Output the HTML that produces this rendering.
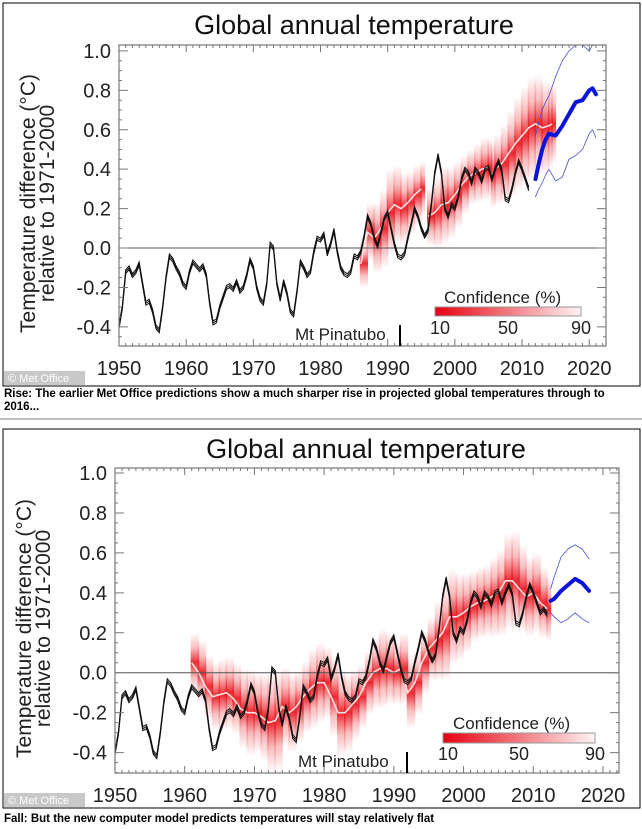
<!DOCTYPE html>
<html><head><meta charset="utf-8">
<style>
html,body{margin:0;padding:0;background:#fff;}
body{width:642px;height:829px;position:relative;overflow:hidden;font-family:"Liberation Sans",sans-serif;}
.cap{position:absolute;left:4px;font-family:"Liberation Sans Narrow","Liberation Sans",sans-serif;font-weight:bold;font-size:11.5px;color:#000;line-height:13px;}
</style></head>
<body>
<svg id="chart" width="642" height="829" viewBox="0 0 642 829" style="position:absolute;left:0;top:0">
<defs>
<linearGradient id="redv" x1="0" y1="0" x2="0" y2="1">
<stop offset="0" stop-color="#e8101a" stop-opacity="0"/>
<stop offset="0.25" stop-color="#ec2a30" stop-opacity="0.3"/>
<stop offset="0.5" stop-color="#e8101a" stop-opacity="0.9"/>
<stop offset="0.75" stop-color="#ec2a30" stop-opacity="0.3"/>
<stop offset="1" stop-color="#e8101a" stop-opacity="0"/>
</linearGradient>
<linearGradient id="legg" x1="0" y1="0" x2="1" y2="0">
<stop offset="0" stop-color="#e8000f"/>
<stop offset="0.5" stop-color="#f27a80"/>
<stop offset="1" stop-color="#fff4f4"/>
</linearGradient>
</defs>
</svg>
<div class="cap" style="top:388px;width:630px;">Rise: The earlier Met Office predictions show a much sharper rise in projected global temperatures through to 2016...</div>
<div style="position:absolute;left:0;top:418px;width:642px;height:2px;background:#bbb"></div>
<div class="cap" style="top:813px;">Fall: But the new computer model predicts temperatures will stay relatively flat</div>
<script>
// Observations (start 1950, half-year step)
const obsStart = 1950;
const obsStep = 0.5;
const obsVals = [-0.40,-0.30,-0.12,-0.10,-0.14,-0.12,-0.08,-0.18,-0.28,-0.27,-0.32,-0.40,-0.42,-0.30,-0.15,-0.04,-0.06,-0.10,-0.13,-0.18,
-0.20,-0.12,-0.07,-0.09,-0.11,-0.09,-0.14,-0.28,-0.38,-0.37,-0.30,-0.25,-0.20,-0.19,-0.21,-0.17,-0.22,-0.20,-0.14,-0.06,
-0.10,-0.20,-0.26,-0.28,-0.18,0.02,0.00,-0.18,-0.26,-0.17,-0.23,-0.32,-0.34,-0.22,-0.07,-0.10,-0.14,-0.12,-0.02,0.05,
0.04,0.07,-0.03,0.02,0.09,-0.02,-0.10,-0.13,-0.14,-0.12,-0.04,-0.05,-0.02,0.06,0.16,0.12,0.05,0.01,0.08,0.15,
0.18,0.10,0.02,-0.04,-0.05,-0.03,0.05,0.12,0.20,0.16,0.10,0.06,0.09,0.22,0.38,0.47,0.38,0.20,0.16,0.22,
0.20,0.26,0.35,0.40,0.38,0.33,0.40,0.38,0.34,0.40,0.41,0.35,0.40,0.44,0.39,0.25,0.24,0.30,0.38,0.44,
0.40,0.35,0.30,0.32,0.29];
const obsOffsets = [0.01,-0.01,0];

// Panel 1 hindcast segments (years, median, spread)
const p1HindYears = [[1986,1987,1988,1989,1990,1991,1992,1993,1994,1995],
[1996,1997,1998,1999,2000,2001,2002,2003,2004,2005],
[2005.5,2006,2007,2008,2009,2010,2011,2012,2013,2014,2014.5]];
const p1HindMed = [[-0.08,0.08,0.05,0.10,0.18,0.22,0.20,0.23,0.27,0.30],
[0.16,0.18,0.22,0.23,0.27,0.32,0.36,0.38,0.40,0.41],
[0.37,0.40,0.43,0.48,0.53,0.57,0.61,0.63,0.61,0.62,0.63]];
const p1HindSpread = [[0.12,0.15,0.18,0.2,0.22,0.2,0.18,0.16,0.15,0.14],
[0.15,0.18,0.2,0.18,0.17,0.15,0.14,0.15,0.16,0.15],
[0.17,0.18,0.2,0.22,0.24,0.25,0.26,0.25,0.24,0.22,0.2]];
// Panel 1 forecast
const p1FcYears = [2012,2012.5,2013,2013.5,2014,2015,2016,2017,2018,2019,2020,2020.5,2021];
const p1FcMid = [0.35,0.43,0.50,0.55,0.58,0.57,0.62,0.68,0.74,0.75,0.80,0.81,0.78];
const p1FcHi = [0.57,0.64,0.70,0.74,0.77,0.87,0.95,1.00,1.03,1.03,1.00,1.05,1.05];
const p1FcLo = [0.26,0.30,0.33,0.37,0.40,0.34,0.36,0.45,0.47,0.50,0.58,0.60,0.56];

// Panel 2 hindcast
const p2HindYears = [[1961,1962,1963,1964,1965,1966,1967,1968,1969,1970,1971,1972,1973,1974,1975,1976,1977,1978,1979,1980,1981,1982,1983,1984,1985,1986,1987,1988,1989,1990,1991,1992,1993,1994,1995,1996,1997,1998,1999,2000,2001,2002,2003,2004,2005,2006,2007,2008,2009,2010,2011,2012]];
const p2HindMed = [[0.05,0.0,-0.07,-0.12,-0.11,-0.10,-0.13,-0.18,-0.20,-0.20,-0.22,-0.25,-0.24,-0.17,-0.20,-0.17,-0.12,-0.08,-0.05,-0.05,-0.12,-0.20,-0.20,-0.16,-0.12,-0.05,0.0,0.02,0.02,0.0,0.02,-0.10,-0.05,0.05,0.12,0.16,0.20,0.28,0.28,0.30,0.33,0.35,0.36,0.38,0.40,0.46,0.46,0.42,0.38,0.40,0.35,0.32]];
const p2HindSpread = [[0.15,0.16,0.16,0.17,0.18,0.18,0.18,0.2,0.22,0.2,0.22,0.25,0.25,0.2,0.2,0.18,0.18,0.2,0.2,0.18,0.2,0.22,0.2,0.18,0.16,0.16,0.18,0.2,0.18,0.16,0.18,0.18,0.16,0.16,0.16,0.2,0.24,0.24,0.22,0.2,0.18,0.18,0.18,0.2,0.22,0.24,0.25,0.22,0.2,0.2,0.18,0.16]];
const p2FcYears = [2012.5,2013,2014,2015,2016,2017,2018];
const p2FcMid = [0.36,0.37,0.41,0.44,0.47,0.45,0.41];
const p2FcHi = [0.42,0.48,0.58,0.62,0.64,0.62,0.57];
const p2FcLo = [0.30,0.28,0.25,0.27,0.30,0.27,0.25];

const yTicks = [1.0,0.8,0.6,0.4,0.2,0.0,-0.2,-0.4];
const yTickLabels = ["1.0","0.8","0.6","0.4","0.2","0.0","-0.2","-0.4"];
const xTicks = [1950,1960,1970,1980,1990,2000,2010,2020];

const svg = document.getElementById('chart');
const NS = 'http://www.w3.org/2000/svg';
function mk(tag, attrs, parent){const e=document.createElementNS(NS,tag);for(const k in attrs)e.setAttribute(k,attrs[k]);(parent||svg).appendChild(e);return e;}

const panels = [
 {name:'panel-1', box:[3,3,637,383], title:[354,34], pl:119, pr:606, pt:45, pb:346, x0:1950, x1:2022.5, y0:-0.497, y1:1.03,
  hy:p1HindYears, hm:p1HindMed, hs:p1HindSpread, fy:p1FcYears, fm:p1FcMid, fh:p1FcHi, fl:p1FcLo, obsEnd:2011,
  leg:{tx:444,ty:303,bx:435,by:307,bw:146,bh:9,ly:334}, pin:{tx:295,ty:340,lx:400}},
 {name:'panel-2', box:[3,429,637,379], title:[366,458], pl:115, pr:619, pt:468, pb:773, x0:1950, x1:2022.3, y0:-0.502, y1:1.025,
  hy:p2HindYears, hm:p2HindMed, hs:p2HindSpread, fy:p2FcYears, fm:p2FcMid, fh:p2FcHi, fl:p2FcLo, obsEnd:2012.5,
  leg:{tx:453,ty:729,bx:443,by:733,bw:152,bh:10,ly:760}, pin:{tx:298,ty:767,lx:407}}
];

panels.forEach(p=>{
 const g = mk('g',{});
 
 
 const X = v => p.pl + (v-p.x0)/(p.x1-p.x0)*(p.pr-p.pl);
 const Y = v => p.pb - (v-p.y0)/(p.y1-p.y0)*(p.pb-p.pt);
 const frame = mk('rect',{x:p.box[0],y:p.box[1],width:p.box[2],height:p.box[3],fill:'#fff',stroke:'#000','stroke-width':1},g);
 
 
 const t = mk('text',{x:p.title[0],y:p.title[1],'text-anchor':'middle','font-size':27,fill:'#111'},g);
 t.textContent='Global annual temperature';
 
 
 const eg = mk('g',{},g);
 
 
 p.hy.forEach((ys,si)=>{
  ys.forEach((yr,i)=>{
   const m=p.hm[si][i], s=p.hs[si][i];
   const w = (i<ys.length-1? X(ys[i+1])-X(yr) : X(yr+0.5)-X(yr));
   const r = mk('rect',{x:X(yr)-1,y:Y(m+s),width:w+1.5,height:Y(m-s)-Y(m+s),fill:'url(#redv)'},eg);
   
   
  });
  const med = mk('polyline',{points:ys.map((yr,i)=>X(yr)+','+Y(p.hm[si][i])).join(' '),fill:'none',stroke:'#ffe0e0','stroke-width':1.6},g);
  
  
 });
 const z = mk('line',{x1:p.pl,x2:p.pr,y1:Y(0),y2:Y(0),stroke:'#555','stroke-width':1},g);
 
 
 obsOffsets.forEach(off=>{
  const pts=[];
  obsVals.forEach((v,i)=>{const yr=obsStart+i*obsStep; if(yr<=p.obsEnd) pts.push(X(yr)+','+Y(v+off));});
  const l = mk('polyline',{points:pts.join(' '),fill:'none',stroke:'#111','stroke-width':1},g);
  
  
 });
 [[p.fh,0.8],[p.fl,0.8],[p.fm,4]].forEach(([arr,w])=>{
  const l = mk('polyline',{points:p.fy.map((yr,i)=>X(yr)+','+Y(Math.min(arr[i],p.y1))).join(' '),fill:'none',stroke:w>1?'#0a14d8':'#4a50d0','stroke-width':w,'stroke-linejoin':'round','stroke-linecap':'round'},g);
  
  
 });
 const ax = mk('rect',{x:p.pl,y:p.pt,width:p.pr-p.pl,height:p.pb-p.pt,fill:'none',stroke:'#777','stroke-width':1.2},g);
 
 
 let d='';
 for(let yr=1950; yr<=p.x1; yr++){const L=(yr%10===0)?7:3; d+=`M${X(yr)},${p.pb}v${-L}M${X(yr)},${p.pt}v${L}`;}
 for(let k=-10;k<=20;k++){const v=k*0.05; if(v<p.y0||v>p.y1)continue; const L=(k%4===0)?9:3; d+=`M${p.pl},${Y(v)}h${L}M${p.pr},${Y(v)}h${-L}`;}
 const tk = mk('path',{d:d,stroke:'#777','stroke-width':1,fill:'none'},g);
 
 
 yTicks.forEach((v,i)=>{
  const tt = mk('text',{x:p.pl-8,y:Y(v)+7,'text-anchor':'end','font-size':20,fill:'#222'},g);
  tt.textContent=yTickLabels[i];
  
  
 });
 xTicks.forEach(v=>{
  const tt = mk('text',{x:X(v),y:p.pb+29,'text-anchor':'middle','font-size':20,fill:'#222'},g);
  tt.textContent=v;
  
  
 });
 const cy=(p.pt+p.pb)/2+8;
 const yt = mk('text',{transform:`translate(${p.pl-84},${cy}) rotate(-90)`,'text-anchor':'middle','font-size':21,fill:'#222'},g);
 
 
 const t1=mk('tspan',{x:0,y:0},yt); t1.textContent='Temperature difference (°C)';
 const t2=mk('tspan',{x:0,y:19},yt); t2.textContent='relative to 1971-2000';
 const lg = mk('g',{},g);
 
 
 const lt = mk('text',{x:p.leg.tx,y:p.leg.ty,'font-size':17,fill:'#222'},lg); lt.textContent='Confidence (%)';
 mk('rect',{x:p.leg.bx,y:p.leg.by,width:p.leg.bw,height:p.leg.bh,fill:'url(#legg)',stroke:'#999','stroke-width':1},lg);
 [['10',p.leg.bx+5],['50',p.leg.bx+p.leg.bw/2],['90',p.leg.bx+p.leg.bw]].forEach(([s,x])=>{
  const e=mk('text',{x:x,y:p.leg.ly,'text-anchor':'middle','font-size':18,fill:'#222'},lg); e.textContent=s;
 });
 const pt = mk('text',{x:p.pin.tx,y:p.pin.ty,'font-size':17,fill:'#222'},g);
 pt.textContent='Mt Pinatubo';
 
 
 const pl = mk('line',{x1:p.pin.lx,x2:p.pin.lx,y1:p.pb-21,y2:p.pb,stroke:'#000','stroke-width':2},g);
 
 
 const by = p.box[1]+p.box[3];
 const wm = mk('rect',{x:p.box[0]+1,y:by-15,width:81,height:14,fill:'#c8c8c8'},g);
 
 
 const wt = mk('text',{x:p.box[0]+5,y:by-4,'font-size':11,fill:'#fff'},g);
 wt.textContent='© Met Office';
});
</script>
</body></html>
